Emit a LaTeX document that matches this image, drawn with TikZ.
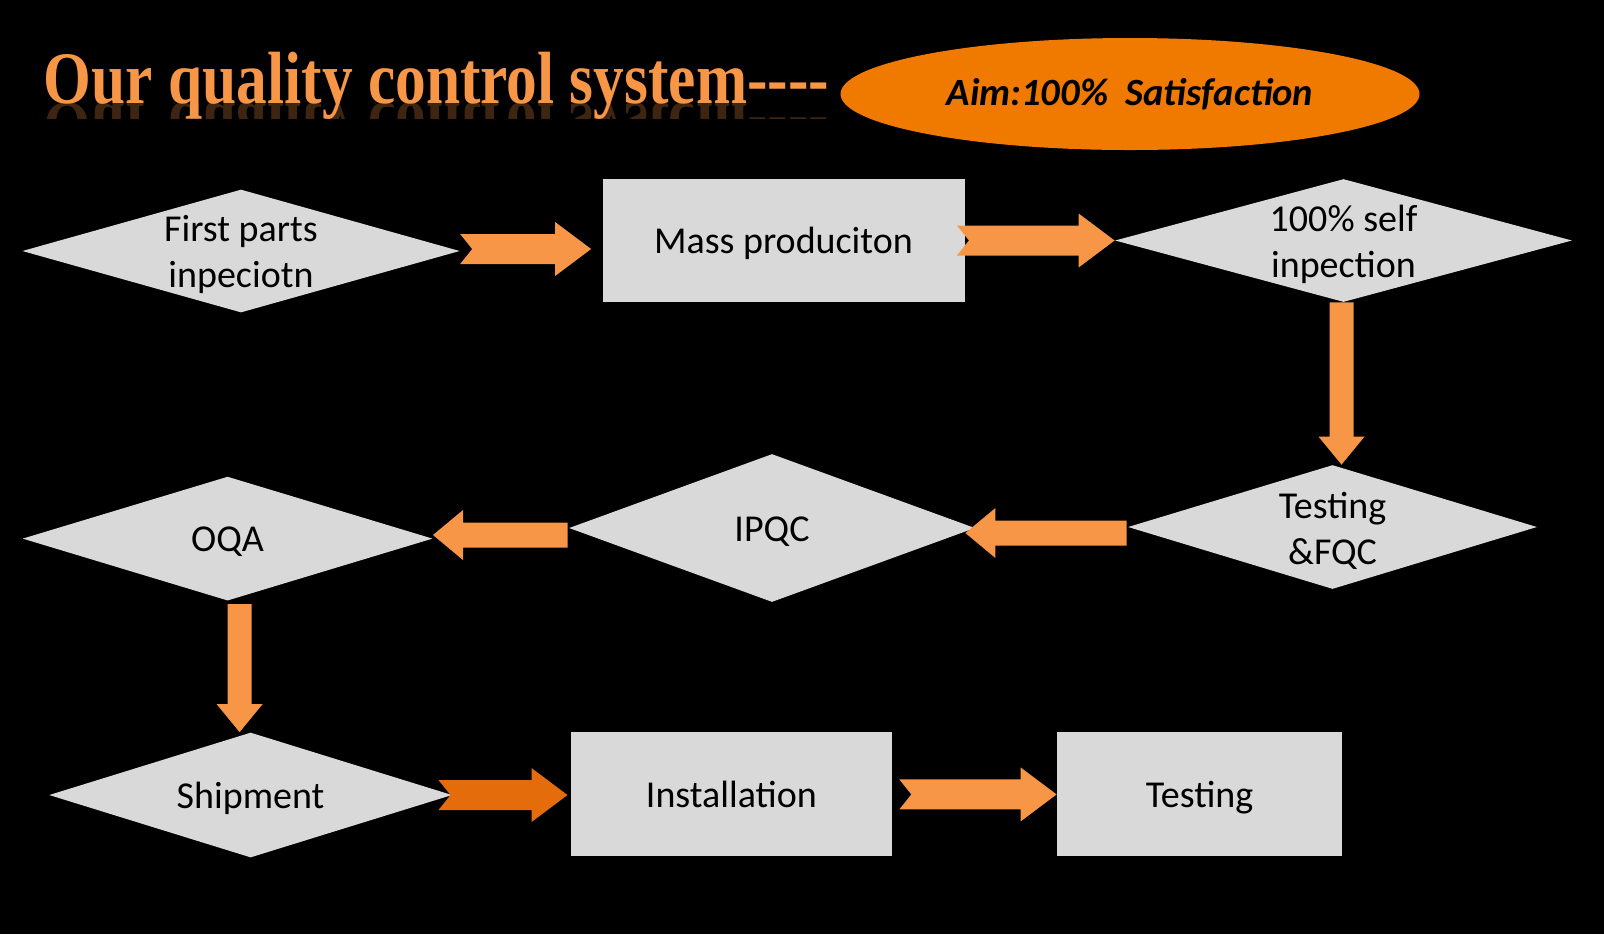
\documentclass[tikz,border=0pt]{standalone}
\usepackage{fontspec}
\setmainfont{Carlito}
\newfontfamily\titlefont{Liberation Serif}
\usepackage{tikz}
\usetikzlibrary{shapes.geometric,calc}

\definecolor{boxgray}{HTML}{D9D9D9}
\definecolor{arroworange}{HTML}{F79646}
\definecolor{darkorange}{HTML}{E46C0A}
\definecolor{aimorange}{HTML}{F07A00}
\definecolor{titleorange}{HTML}{F79646}

\newcommand{\arrowR}[3][arroworange]{%
  \fill[#1] let \p1=(#2), \p2=(#3) in
    (\x1,\y1+7.5pt) -- (\x2-18pt,\y1+7.5pt) -- (\x2-18pt,\y1+13.5pt)
    -- (\x2,\y1) -- (\x2-18pt,\y1-13.5pt) -- (\x2-18pt,\y1-7.5pt)
    -- (\x1,\y1-7.5pt) -- (\x1+6pt,\y1) -- cycle;}
\newcommand{\arrowL}[3][arroworange]{%
  \fill[#1] let \p1=(#2), \p2=(#3) in
    (\x1,\y1+6.25pt) -- (\x2+15pt,\y1+6.25pt) -- (\x2+15pt,\y1+12.5pt)
    -- (\x2,\y1) -- (\x2+15pt,\y1-12.5pt) -- (\x2+15pt,\y1-6.25pt)
    -- (\x1,\y1-6.25pt) -- cycle;}
\newcommand{\arrowD}[3][arroworange]{%
  \fill[#1] let \p1=(#2), \p2=(#3) in
    (\x1-6pt,\y1) -- (\x1-6pt,\y2+14pt) -- (\x1-11.5pt,\y2+14pt)
    -- (\x1,\y2) -- (\x1+11.5pt,\y2+14pt) -- (\x1+6pt,\y2+14pt)
    -- (\x1+6pt,\y1) -- cycle;}

\begin{document}
\begin{tikzpicture}[x=0.5pt,y=-0.5pt,
    box/.style={rectangle, fill=boxgray, inner sep=0pt, text height=15pt, text depth=1.8pt,
      font=\fontsize{19}{23}\selectfont},
    dia/.style={diamond, fill=boxgray, inner sep=0pt},
    dtext/.style={text height=15pt, text depth=1.8pt, font=\fontsize{19}{23}\selectfont},
    dtwo/.style={align=center, yshift=-1.75pt, font=\fontsize{19}{23}\selectfont},
    titletext/.style={anchor=base west, xscale=0.83, text=titleorange,
      font=\titlefont\bfseries\fontsize{37}{42}\selectfont}]
    \fill[black] (0,0) rectangle (1604,934);
    \node[titletext] (title) at (38,103) {Our quality control system----};
    \begin{scope}
      \clip (30,103) rectangle (840,118);
      \node[titletext, yscale=-1, opacity=0.25] (mirror) at (38,103) {Our quality control system----};
    \end{scope}
    \node[ellipse, fill=aimorange, inner sep=0pt, minimum width=289.5pt, minimum height=56pt,
      font=\bfseries\itshape\fontsize{19.3}{23}\selectfont] (aim) at (1130,94) {Aim:100\%\ \ Satisfaction};

    \node[dia, minimum width=218.75pt, minimum height=61.5pt,
      label={[dtwo]center:{First parts\\inpeciotn}}] (fp) at (241,251) {};
    \node[box, minimum width=181pt, minimum height=61.5pt] (mp) at (783.5,240.5) {Mass produciton};
    \node[dia, minimum width=228.5pt, minimum height=61.5pt,
      label={[dtwo]center:{100\% self\\inpection}}] (sp) at (1343.5,240.5) {};
    \node[dia, minimum width=204.5pt, minimum height=62pt,
      label={[dtwo]center:{Testing\\\&FQC}}] (tf) at (1332.5,527) {};
    \node[dia, minimum width=203pt, minimum height=74pt,
      label={[dtext]center:IPQC}] (ip) at (772,528) {};
    \node[dia, minimum width=205pt, minimum height=62pt,
      label={[dtext]center:OQA}] (oq) at (227.6,538.6) {};
    \node[dia, minimum width=201.5pt, minimum height=62.5pt,
      label={[dtext]center:Shipment}] (sh) at (250.6,795) {};
    \node[box, minimum width=160.5pt, minimum height=62pt] (in) at (731.4,794.4) {Installation};
    \node[box, minimum width=142.5pt, minimum height=62pt] (te) at (1199.5,794.4) {Testing};

    \arrowR{$(fp.east)+(0,-2)$}{$(mp.west)+(-11,0)$}
    \arrowR{$(mp.east)+(-8,0)$}{sp.west}
    \arrowD{$(sp.south)+(-2,0)$}{tf.north}
    \arrowL{$(tf.west)+(-1,6)$}{$(ip.east)+(-10,0)$}
    \arrowL{$(ip.west)+(-1,7)$}{oq.east}
    \arrowD{$(oq.south)+(12,3)$}{sh.north}
    \arrowR[darkorange]{$(sh.east)+(-14,0)$}{$(in.west)+(-3,0)$}
    \arrowR{$(in.east)+(7,0)$}{te.west}
\end{tikzpicture}
\end{document}
